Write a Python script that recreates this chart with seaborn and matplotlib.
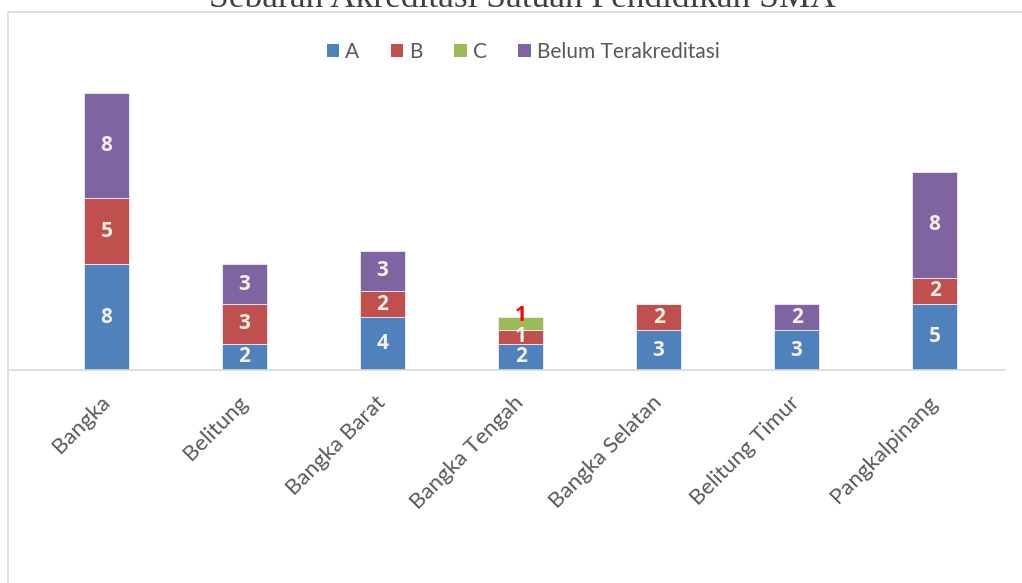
import matplotlib
matplotlib.use("Agg")
import matplotlib.pyplot as plt
import matplotlib.transforms as mtransforms
import seaborn as sns
import numpy as np
from matplotlib.patches import Patch
from matplotlib.lines import Line2D

categories = ["Bangka", "Belitung", "Bangka Barat", "Bangka Tengah",
              "Bangka Selatan", "Belitung Timur", "Pangkalpinang"]
series_names = ["A", "B", "C", "Belum Terakreditasi"]
vals_A = [8, 2, 4, 2, 3, 3, 5]
vals_B = [5, 3, 2, 1, 2, 0, 2]
vals_C = [0, 0, 0, 1, 0, 0, 0]
vals_Belum = [8, 3, 3, 0, 0, 2, 8]
colors = ["#4f81bd", "#c0504d", "#9bbb59", "#8064a2"]

sns.set_theme(style="white")
plt.rcParams['font.family'] = ['Lato', 'DejaVu Sans']

fig = plt.figure(figsize=(10.22, 5.83), dpi=100)
W, H = 1022, 583
ax = fig.add_axes([10 / W, 1 - 370 / H, (1005 - 10) / W, (370 - 80) / H])

bold_font = ["Open Sans", "DejaVu Sans"]
bottom = np.zeros(len(categories))
all_vals = [vals_A, vals_B, vals_C, vals_Belum]
for name, vals, col in zip(series_names, all_vals, colors):
    v = np.array(vals, dtype=float)
    sns.barplot(x=categories, y=v, bottom=bottom, color=col, width=0.33,
                ax=ax, edgecolor="#e8eef7", linewidth=0.6, saturation=1)
    for i, val in enumerate(v):
        if val > 0:
            if name == "C":
                ax.text(i, bottom[i] + val + 0.1, f"{int(val)}", ha="center",
                        va="center", color="red", fontsize=15, fontweight="bold",
                        family=bold_font)
            else:
                ax.text(i, bottom[i] + val / 2, f"{int(val)}", ha="center",
                        va="center", color="#f2efe6", fontsize=15, fontweight="bold",
                        family=bold_font)
    bottom = bottom + v

ax.set_xlim(-0.70, 6.51)
ax.set_ylim(0, 290 / 13.2)
for s in ["top", "right", "left"]:
    ax.spines[s].set_visible(False)
ax.spines["bottom"].set_color("#d9d9d9")
ax.spines["bottom"].set_linewidth(1.2)
ax.set_yticks([])
ax.set_ylabel("")
ax.tick_params(axis="x", length=0, pad=16)
ax.set_xticks(range(len(categories)))
ax.set_xticklabels(categories, rotation=45, ha="right", rotation_mode="anchor",
                   fontsize=16, color="#595959")
offset = mtransforms.ScaledTranslation(-7 / 100, 0, fig.dpi_scale_trans)
for lbl in ax.get_xticklabels():
    lbl.set_transform(lbl.get_transform() + offset)

handles = [Patch(facecolor=c, edgecolor="none") for c in colors]
fig.legend(handles, series_names, loc="center", bbox_to_anchor=(523 / W, 1 - 52 / H),
           ncol=4, frameon=False, fontsize=15, handlelength=0.6, handleheight=0.6,
           handletextpad=0.3, columnspacing=1.5, labelcolor="#595959")

# outer chart border
fig.add_artist(Line2D([8 / W, 8 / W], [0, 1 - 12 / H], transform=fig.transFigure,
                      color="#d9d9d9", linewidth=1.2))
fig.add_artist(Line2D([8 / W, 1], [1 - 12 / H, 1 - 12 / H], transform=fig.transFigure,
                      color="#d9d9d9", linewidth=1.2))

fig.text(522 / W, 1 - 7 / H, "Sebaran Akreditasi Satuan Pendidikan SMA",
         ha="center", va="baseline", fontsize=25.5, color="#404040",
         family=["Liberation Serif", "DejaVu Serif"])

fig.savefig("out.png", dpi=100)
